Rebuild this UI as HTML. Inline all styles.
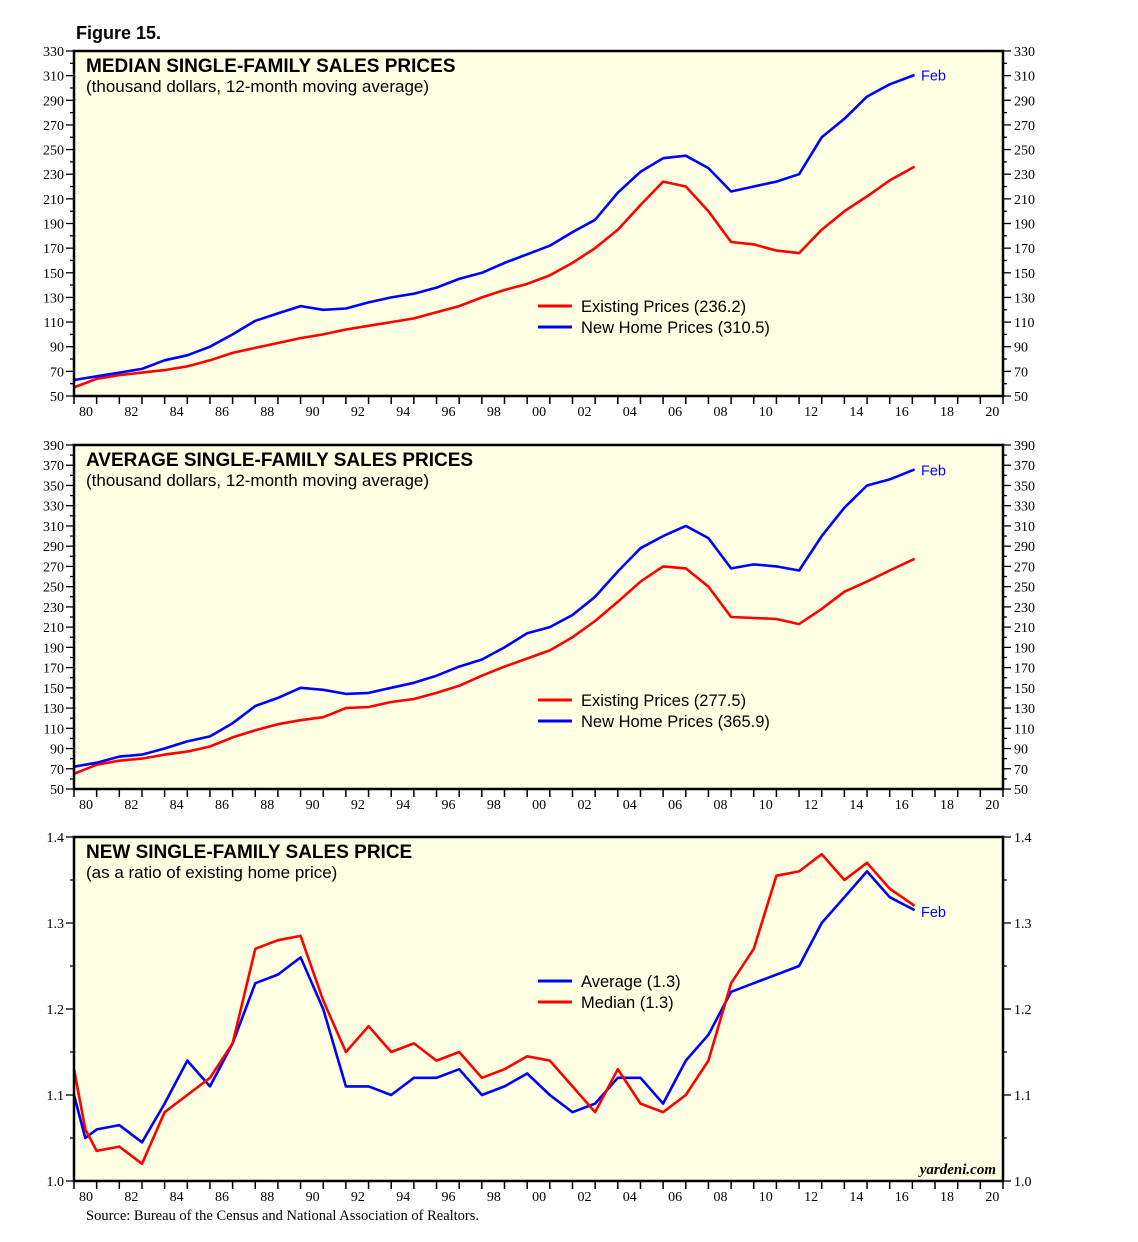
<!DOCTYPE html>
<html><head><meta charset="utf-8">
<style>
body{margin:0;background:#fff;}
svg{display:block;}
.serif{font-family:"Liberation Serif",serif;}
.sans{font-family:"Liberation Sans",sans-serif;}
</style></head>
<body>
<svg id="chart" width="1138" height="1242" viewBox="0 0 1138 1242" xmlns="http://www.w3.org/2000/svg">
<text x="76" y="39" class="sans" font-size="18" font-weight="bold">Figure 15.</text>
<text x="86" y="1220" class="serif" font-size="14.5">Source: Bureau of the Census and National Association of Realtors.</text>
</svg>
<script>
const years = [1980,1981,1982,1983,1984,1985,1986,1987,1988,1989,1990,1991,1992,1993,1994,1995,1996,1997,1998,1999,2000,2001,2002,2003,2004,2005,2006,2007,2008,2009,2010,2011,2012,2013,2014,2015,2016,2017.1];
const medianExisting = [57,64,67,69,71,74,79,85,89,93,97,100,104,107,110,113,118,123,130,136,141,148,158,170,185,205,224,220,200,175,173,168,166,185,200,212,225,236.2];
const medianNew = [63,66,69,72,79,83,90,100,111,117,123,120,121,126,130,133,138,145,150,158,165,172,183,193,215,232,243,245,235,216,220,224,230,260,275,293,303,310.5];
const avgExisting = [65,74,78,80,84,87,92,101,108,114,118,121,130,131,136,139,145,152,162,171,179,187,200,216,235,255,270,268,250,220,219,218,213,228,245,255,266,277.5];
const avgNew = [72,76,82,84,90,97,102,115,132,140,150,148,144,145,150,155,162,171,178,190,204,210,222,240,265,288,300,310,298,268,272,270,266,300,328,350,356,365.9];
const ratioYears = [1980,1980.5,1981,1982,1983,1984,1985,1986,1987,1988,1989,1990,1991,1992,1993,1994,1995,1996,1997,1998,1999,2000,2001,2002,2003,2004,2005,2006,2007,2008,2009,2010,2011,2012,2013,2014,2015,2016,2017.1];
const ratioMedian = [1.13,1.06,1.035,1.04,1.02,1.08,1.10,1.12,1.16,1.27,1.28,1.285,1.21,1.15,1.18,1.15,1.16,1.14,1.15,1.12,1.13,1.145,1.14,1.11,1.08,1.13,1.09,1.08,1.10,1.14,1.23,1.27,1.355,1.36,1.38,1.35,1.37,1.34,1.32];
const ratioAverage = [1.10,1.05,1.06,1.065,1.045,1.09,1.14,1.11,1.16,1.23,1.24,1.26,1.20,1.11,1.11,1.10,1.12,1.12,1.13,1.10,1.11,1.125,1.10,1.08,1.09,1.12,1.12,1.09,1.14,1.17,1.22,1.23,1.24,1.25,1.30,1.33,1.36,1.33,1.315];
const xLabels = ["80","82","84","86","88","90","92","94","96","98","00","02","04","06","08","10","12","14","16","18","20"];

const svg = document.getElementById('chart');
const NS = 'http://www.w3.org/2000/svg';
const X0 = 74, X1 = 1003, Y0YEAR = 1980, Y1YEAR = 2021;
function xs(y){ return X0 + (y - Y0YEAR) * (X1 - X0) / (Y1YEAR - Y0YEAR); }
function mk(tag, attrs){ const e = document.createElementNS(NS, tag); for (const k in attrs) e.setAttribute(k, attrs[k]); svg.appendChild(e); return e; }

function panel(cfg){
  const {top, bot, min, max, step, minor, dec, title, sub, name} = cfg;
  const ys = v => bot - (v - min) * (bot - top) / (max - min);
  const bg = mk('rect', {x:X0, y:top, width:X1-X0, height:bot-top, fill:'#ffffe3', stroke:'none'});
  
  
  for (let v = min; v <= max + 1e-9; v += minor) {
    const major = Math.abs(((v - min) / step) - Math.round((v - min) / step)) < 1e-6;
    const len = major ? 8 : 4;
    const y = ys(v);
    const t1 = mk('line', {x1:X0-len, x2:X0, y1:y, y2:y, stroke:'#000', 'stroke-width':1.3});
    
    
    const t2 = mk('line', {x1:X1, x2:X1+len, y1:y, y2:y, stroke:'#000', 'stroke-width':1.3});
    
    
    if (major) {
      const lab = v.toFixed(dec);
      const l = mk('text', {x:X0-10, y:y+5, 'text-anchor':'end', class:'serif', 'font-size':14});
      l.textContent = lab;
      
      
      const r = mk('text', {x:X1+11, y:y+5, class:'serif', 'font-size':14});
      r.textContent = lab;
      
      
    }
  }
  for (let yr = Y0YEAR; yr <= Y1YEAR; yr++) {
    const t = mk('line', {x1:xs(yr), x2:xs(yr), y1:bot, y2:bot+8, stroke:'#000', 'stroke-width':1.5});
    
    
  }
  xLabels.forEach((lab, i) => {
    const t = mk('text', {x:xs(1980 + 2*i) + 12, y:bot+20, 'text-anchor':'middle', class:'serif', 'font-size':14});
    t.textContent = lab;
    
    
  });
  cfg.series.forEach(s => {
    const pts = s.vals.map((v, i) => xs(s.x[i]).toFixed(1) + ',' + ys(v).toFixed(1)).join(' ');
    const p = mk('polyline', {points:pts, fill:'none', stroke:s.color, 'stroke-width':2.6, 'stroke-linejoin':'round'});
    
    
  });
  const fr = mk('rect', {x:X0, y:top, width:X1-X0, height:bot-top, fill:'none', stroke:'#000', 'stroke-width':2.5});
  
  
  const tt = mk('text', {x:86, y:top+21, class:'sans', 'font-size':19, 'font-weight':'bold'});
  tt.textContent = title;
  
  
  const st = mk('text', {x:86, y:top+41, class:'sans', 'font-size':17});
  st.textContent = sub;
  
  
  cfg.legend.forEach((lg, i) => {
    const y = cfg.legY + i*21;
    const l = mk('line', {x1:538, x2:572, y1:y, y2:y, stroke:lg.color, 'stroke-width':3});
    
    
    const t = mk('text', {x:581, y:y+6, class:'sans', 'font-size':16.5});
    t.textContent = lg.label;
    
    
  });
  const f = mk('text', {x:cfg.febX, y:ys(cfg.febV)+5, class:'sans', 'font-size':14.5, fill:'#0000ff'});
  f.textContent = 'Feb';
  
  
}

panel({top:51, bot:396, min:50, max:330, step:20, minor:10, dec:0, name:'median-panel',
  title:'MEDIAN SINGLE-FAMILY SALES PRICES', sub:'(thousand dollars, 12-month moving average)',
  series:[{x:years, vals:medianExisting, color:'#ff0000', name:'existing-median-line'},{x:years, vals:medianNew, color:'#0000ff', name:'new-median-line'}],
  legend:[{color:'#ff0000', label:'Existing Prices (236.2)'},{color:'#0000ff', label:'New Home Prices (310.5)'}], legY:306, febX:921, febV:310});
panel({top:445, bot:789, min:50, max:390, step:20, minor:10, dec:0, name:'average-panel',
  title:'AVERAGE SINGLE-FAMILY SALES PRICES', sub:'(thousand dollars, 12-month moving average)',
  series:[{x:years, vals:avgExisting, color:'#ff0000', name:'existing-average-line'},{x:years, vals:avgNew, color:'#0000ff', name:'new-average-line'}],
  legend:[{color:'#ff0000', label:'Existing Prices (277.5)'},{color:'#0000ff', label:'New Home Prices (365.9)'}], legY:700, febX:921, febV:365});
panel({top:837, bot:1181, min:1.0, max:1.4, step:0.1, minor:0.05, dec:1, name:'ratio-panel',
  title:'NEW SINGLE-FAMILY SALES PRICE', sub:'(as a ratio of existing home price)',
  series:[{x:ratioYears, vals:ratioAverage, color:'#0000ff', name:'average-ratio-line'},{x:ratioYears, vals:ratioMedian, color:'#ff0000', name:'median-ratio-line'}],
  legend:[{color:'#0000ff', label:'Average (1.3)'},{color:'#ff0000', label:'Median (1.3)'}], legY:981, febX:921, febV:1.313});

const yd = mk('text', {x:996, y:1174, 'text-anchor':'end', class:'serif', 'font-size':15, 'font-style':'italic', 'font-weight':'bold'});
yd.textContent = 'yardeni.com';


</script>
</body></html>
